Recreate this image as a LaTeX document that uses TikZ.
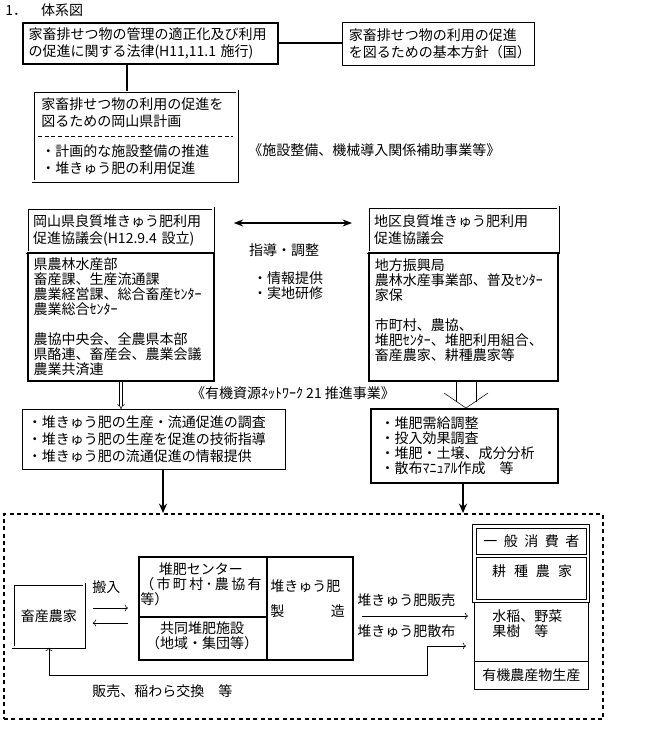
\documentclass[tikz,border=0pt]{standalone}
\usepackage{fontspec}
\newfontfamily\jp{Noto Sans CJK JP}
\usetikzlibrary{arrows.meta,positioning,calc}

\begin{document}
\begin{tikzpicture}[x=0.75pt,y=-0.75pt,>=To,
  font=\jp\fontsize{10.5pt}{12.75pt}\selectfont,
  box/.style={draw,anchor=north west,inner xsep=4pt,inner ysep=0pt,align=left},
  bold/.style={box,line width=1.5pt},
  dbl/.style={box,double,double distance=1.5pt,line width=0.6pt},
  tight/.style={font=\jp\fontsize{10.5pt}{11.25pt}\selectfont},
  txt/.style={inner sep=0pt,align=left}]
  \useasboundingbox (0,0) rectangle (657,741);
  \node[txt,anchor=west] (title) at (5,10) {1．　体系図};
  \node[bold,minimum width=191.25pt,minimum height=30.75pt,text width=183pt] (law) at (22,22)
    {家畜排せつ物の管理の適正化及び利用\\の促進に関する法律(H11,11.1 施行)};
  \node[box,minimum width=144pt,minimum height=32.25pt,text width=134pt,inner xsep=5pt] (basic) at (342,22)
    {家畜排せつ物の利用の促進\\を図るための基本方針（国）};
  \node[dbl,minimum width=153pt,minimum height=67.5pt] (plan) at (33,91) {};
  \node[txt,anchor=north west] (plantop) at (41,97) {家畜排せつ物の利用の促進を\\図るための岡山県計画};
  \node[txt,anchor=north west] (planbot) at (41,144) {・計画的な施設整備の推進\\・堆きゅう肥の利用促進};
  \coordinate (cut) at (0,136);
  \draw[dash pattern=on 3pt off 2pt] ($(plan.west |- cut)+(5,0)$) -- ($(plan.east |- cut)+(-5,0)$);
  \node[txt,anchor=west] (subsidy) at (248,150) {《施設整備、機械導入関係補助事業等》};
  \coordinate (drop) at (127,0);
  \draw[line width=1.5pt] (drop |- law.south) -- (drop |- plan.north);
  \draw[line width=1.5pt] (law.east) -- (law.east -| basic.west);

  \node[dbl,minimum width=139.5pt,minimum height=33pt,text width=131pt] (pchead) at (27,208)
    {岡山県良質堆きゅう肥利用\\促進協議会(H12.9.4 設立)};
  \node[bold,tight,minimum width=139.5pt,minimum height=96pt,text width=131pt] (pcbody) at (27,252)
    {県農林水産部\\畜産課、生産流通課\\農業経営課、総合畜産ｾﾝﾀｰ\\農業総合ｾﾝﾀｰ\\[11.25pt]%
     農協中央会、全農県本部\\県酪連、畜産会、農業会議\\農業共済連};
  \node[dbl,minimum width=142.5pt,minimum height=33.75pt,text width=134pt] (dchead) at (368,207)
    {地区良質堆きゅう肥利用\\促進協議会};
  \node[bold,tight,minimum width=141.75pt,minimum height=96pt,text width=133pt] (dcbody) at (368,252)
    {地方振興局\\農林水産事業部、普及ｾﾝﾀｰ\\家保\\[11.25pt]%
     市町村、農協、\\堆肥ｾﾝﾀｰ、堆肥利用組合、\\畜産農家、耕種農家等\\\mbox{}};
  \coordinate (link) at (0,223);
  \draw[{Stealth[length=7pt]}-{Stealth[length=7pt]},line width=2pt,shorten <=15pt,shorten >=12pt]
    (pchead.east |- link) -- (dchead.west |- link);
  \node[txt] (guide) at (284,250) {指導・調整};
  \node[txt,tight] (info) at (288,286) {・情報提供\\・実地研修};

  \node[box,minimum width=197.25pt,minimum height=45pt,text width=189pt] (survey) at (22,409)
    {・堆きゅう肥の生産・流通促進の調査\\・堆きゅう肥の生産を促進の技術指導\\・堆きゅう肥の流通促進の情報提供};
  \node[bold,tight,minimum width=140.25pt,minimum height=55.5pt,text width=126pt,inner xsep=7pt] (svc) at (370,408)
    {・堆肥需給調整\\・投入効果調査\\・堆肥・土壌、成分分析\\・散布ﾏﾆｭｱﾙ作成　等};
  \draw[double,double distance=1.5pt,-Implies] (pcbody.south) -- (pcbody.south |- survey.north);
  \node[txt] (net) at (293,393) {《有機資源ﾈｯﾄﾜｰｸ 21 推進事業》};
  \coordinate (hol) at (466,0);
  \draw ($(hol |- dcbody.south)+(-10,0)$) -- +(0,20) ($(hol |- dcbody.south)+(10,0)$) -- +(0,20);
  \draw ($(hol |- svc.north)+(-22,-15)$) -- (hol |- svc.north) -- +(22,-15);

  \node[box,line width=1.5pt,dash pattern=on 3pt off 2.5pt,minimum width=449.25pt,minimum height=153.75pt] (field) at (3,513) {};
  \foreach \n/\x in {survey/163,svc/463}
    \draw[line width=2.2pt,-{Stealth[length=7pt,width=6pt]}] (\x,0 |- \n.south) -- (\x,0 |- field.north);

  \node[dbl,align=center,inner xsep=0pt,minimum width=53.25pt,minimum height=47.25pt] (farm) at (13,584) {畜産農家};
  \node[bold,minimum width=160.5pt,minimum height=77.25pt] (plant) at (138,556) {};
  \coordinate (split) at (267,617);
  \draw[line width=1.5pt] (split |- plant.north) -- (split |- plant.south);
  \draw[line width=1pt] (plant.west |- split) -- (split);
  \node[txt,tight,anchor=north west] (ctr) at (140,562)
    {\makebox[91pt]{堆肥センター}\\\makebox[91pt][s]{（ 市 町 村 ･ 農 協 有}\\等）};
  \node[txt,tight,align=center] (coop) at (202,636) {共同堆肥施設\\（地域・集団等）};
  \node[txt,anchor=north west,text width=56pt] (make) at (270,579) {堆きゅう肥\\[6pt]製\hfill 造};

  \node[box,minimum width=87.75pt,minimum height=58.5pt] (cframe) at (472,524) {};
  \node[box,align=center,inner xsep=0pt,minimum width=82.5pt,minimum height=19.5pt] (gen) at (476,528)
    {\makebox[72pt][s]{一 般 消 費 者}};
  \node[box,minimum width=82.5pt,minimum height=31.5pt] (arable) at (476,557) {};
  \node[txt] (arabletxt) at (532,571) {\makebox[60pt][s]{耕 種 農 家}};
  \node[box,minimum width=85.5pt,minimum height=44.25pt] (crop) at (474,602) {};
  \node[txt,tight,anchor=north west] (croptxt) at (492,609) {水稲、野菜\\果樹　等};
  \node[box,align=center,inner xsep=0pt,minimum width=85.5pt,minimum height=21pt] (orgn) at (474,661) {有機農産物生産};

  \coordinate (in) at (0,608);
  \coordinate (out) at (0,623);
  \node[txt,anchor=west] (carry) at (92,587) {搬入};
  \draw[->,shorten <=6pt,shorten >=7.5pt] (farm.east |- in) -- (plant.west |- in);
  \draw[<-,shorten <=6pt,shorten >=7.5pt] (farm.east |- out) -- (plant.west |- out);
  \coordinate (sell) at (0,616);
  \node[txt,anchor=west] (sale) at (357,600) {堆きゅう肥販売};
  \node[txt,anchor=west] (spread) at (357,631) {堆きゅう肥散布};
  \draw[->,shorten <=6pt,shorten >=4.5pt] (plant.east |- sell) -- (crop.west |- sell);
  \coordinate (loop) at (427,675);
  \coordinate (lift) at (427,646);
  \draw[<->,shorten >=6pt] (farm.south) |- (loop) -- (lift) -- (crop.west |- lift);
  \node[txt,anchor=west] (trade) at (92,691) {販売、稲わら交換　等};
\end{tikzpicture}
\end{document}
